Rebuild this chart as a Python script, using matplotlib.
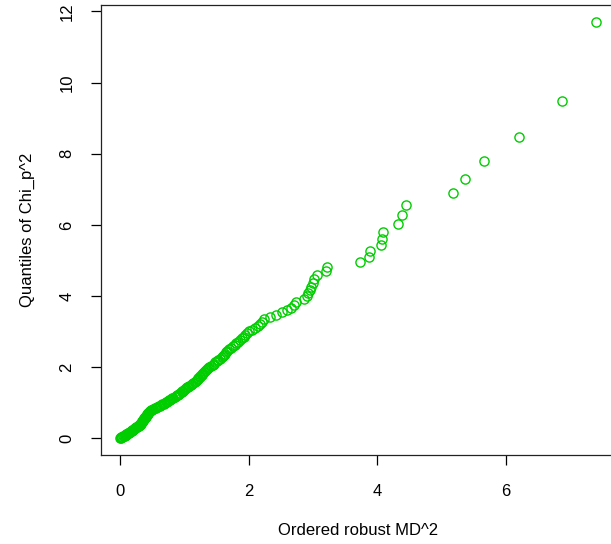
import matplotlib
matplotlib.use("Agg")
import matplotlib.pyplot as plt

# ordered robust squared distances (x) against chi-square quantiles (y)
md2 = [0.00, 0.01, 0.02, 0.03, 0.04, 0.06, 0.07, 0.08, 0.09, 0.10,
       0.11, 0.12, 0.13, 0.14, 0.15, 0.16, 0.17, 0.18, 0.19, 0.20,
       0.21, 0.22, 0.23, 0.24, 0.25, 0.26, 0.27, 0.28, 0.29, 0.30,
       0.305, 0.31, 0.32, 0.325, 0.33, 0.34, 0.345, 0.35, 0.355, 0.36,
       0.37, 0.375, 0.38, 0.385, 0.39, 0.40, 0.405, 0.41, 0.415, 0.42,
       0.43, 0.435, 0.44, 0.45, 0.46, 0.47, 0.48, 0.50, 0.52, 0.54,
       0.56, 0.58, 0.60, 0.62, 0.64, 0.66, 0.68, 0.70, 0.72, 0.73,
       0.75, 0.76, 0.78, 0.79, 0.81, 0.83, 0.85, 0.87, 0.88, 0.90,
       0.92, 0.94, 0.96, 0.97, 0.98, 1.00, 1.01, 1.02, 1.04, 1.05,
       1.08, 1.10, 1.12, 1.14, 1.16, 1.18, 1.19, 1.21, 1.22, 1.24,
       1.25, 1.27, 1.28, 1.29, 1.30, 1.32, 1.33, 1.35, 1.37, 1.39,
       1.41, 1.44, 1.46, 1.48, 1.51, 1.53, 1.56, 1.58, 1.60, 1.62,
       1.63, 1.65, 1.67, 1.69, 1.72, 1.75, 1.78, 1.80, 1.83, 1.86,
       1.89, 1.92, 1.95, 1.98, 2.01, 2.05, 2.10, 2.14, 2.17, 2.20,
       2.24, 2.33, 2.42, 2.52, 2.60, 2.66, 2.70, 2.73, 2.86, 2.90,
       2.93, 2.96, 2.97, 3.00, 3.01, 3.07, 3.20, 3.22, 3.73, 3.87,
       3.88, 4.06, 4.08, 4.09, 4.32, 4.39, 4.44, 5.17, 5.36, 5.66,
       6.20, 6.87, 7.40]

chi2q = [0.006, 0.017, 0.029, 0.041, 0.053, 0.065, 0.077, 0.089, 0.101, 0.113,
         0.126, 0.138, 0.150, 0.163, 0.176, 0.188, 0.201, 0.214, 0.227, 0.240,
         0.253, 0.266, 0.279, 0.293, 0.306, 0.319, 0.333, 0.347, 0.360, 0.374,
         0.388, 0.402, 0.416, 0.430, 0.445, 0.459, 0.474, 0.489, 0.504, 0.518,
         0.534, 0.549, 0.564, 0.579, 0.595, 0.611, 0.626, 0.642, 0.658, 0.674,
         0.691, 0.707, 0.724, 0.740, 0.757, 0.774, 0.791, 0.808, 0.826, 0.843,
         0.861, 0.879, 0.897, 0.915, 0.933, 0.952, 0.971, 0.989, 1.008, 1.028,
         1.047, 1.067, 1.086, 1.106, 1.127, 1.147, 1.168, 1.188, 1.209, 1.231,
         1.252, 1.274, 1.296, 1.318, 1.341, 1.364, 1.387, 1.410, 1.433, 1.457,
         1.481, 1.506, 1.530, 1.555, 1.581, 1.606, 1.632, 1.658, 1.685, 1.712,
         1.739, 1.767, 1.795, 1.824, 1.853, 1.882, 1.912, 1.942, 1.973, 2.005,
         2.036, 2.069, 2.101, 2.135, 2.169, 2.203, 2.238, 2.274, 2.310, 2.347,
         2.385, 2.423, 2.463, 2.503, 2.544, 2.585, 2.628, 2.671, 2.716, 2.761,
         2.808, 2.855, 2.904, 2.954, 3.005, 3.058, 3.112, 3.168, 3.225, 3.284,
         3.344, 3.407, 3.471, 3.538, 3.607, 3.678, 3.752, 3.829, 3.909, 3.993,
         4.080, 4.170, 4.266, 4.366, 4.471, 4.582, 4.700, 4.825, 4.958, 5.101,
         5.255, 5.422, 5.604, 5.804, 6.026, 6.277, 6.563, 6.897, 7.298, 7.801,
         8.474, 9.496, 11.693]

xticks = [0, 2, 4, 6]
yticks = [0, 2, 4, 6, 8, 10, 12]

plt.rcParams['font.family'] = ['Liberation Sans', 'DejaVu Sans']

fig = plt.figure(figsize=(6.11, 5.44), dpi=100)
# the plot box runs a little past the right edge, as in the original
ax = fig.add_axes([0.1653, 0.1636, 0.8412, 0.8263])

ax.plot(md2, chi2q, 'o', ms=6.6, mfc='none', mec='#00CD00', mew=1.0)

# R style 4% padding around the data range
ax.set_xlim(-0.296, 7.696)
ax.set_ylim(-0.468, 12.168)

ax.set_xticks(xticks)
ax.set_yticks(yticks)
ax.set_xticklabels([str(t) for t in xticks])
ax.set_yticklabels([str(t) for t in yticks], rotation=90, va='center')
ax.tick_params(axis='both', direction='out', length=7, width=0.9,
               colors='black', labelsize=12)
ax.tick_params(axis='x', pad=14)
ax.tick_params(axis='y', pad=12)

for s in ax.spines.values():
    s.set_linewidth(0.9)
    s.set_color('#222222')

ax.set_xlabel("Ordered robust MD^2", fontsize=12)
ax.set_ylabel("Quantiles of Chi_p^2", fontsize=12)
ax.xaxis.set_label_coords(0.5, -0.169)
ax.xaxis.label.set_va('center')
ax.yaxis.set_label_coords(-0.144, 0.5)
ax.yaxis.label.set_va('center')

fig.savefig("out.png", dpi=100)
